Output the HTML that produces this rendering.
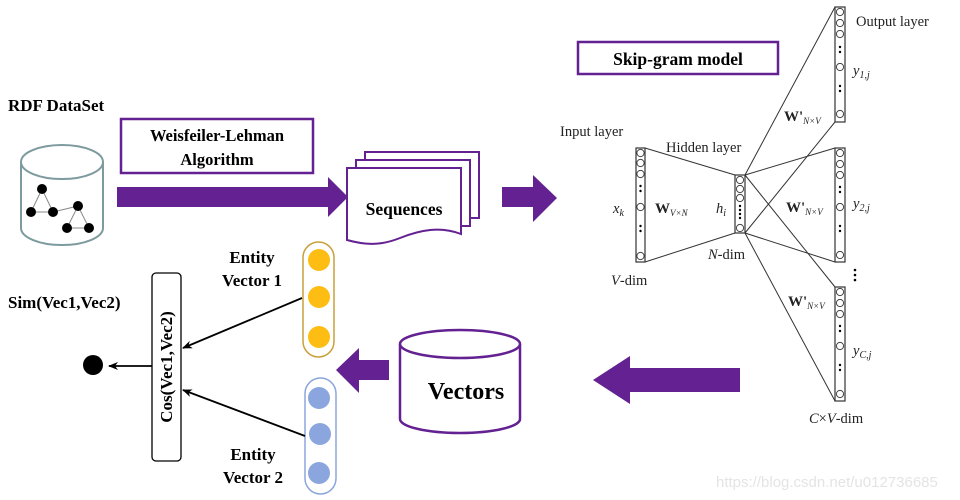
<!DOCTYPE html>
<html><head><meta charset="utf-8"><style>
html,body{margin:0;padding:0;background:#fff;}
svg{display:block;}
text{font-family:"Liberation Serif",serif;}
.b{font-weight:bold;}
</style></head><body>
<svg width="960" height="500" viewBox="0 0 960 500" xmlns="http://www.w3.org/2000/svg">
<defs>
<marker id="ah" markerWidth="10" markerHeight="8" refX="9" refY="4" orient="auto" markerUnits="userSpaceOnUse"><path d="M0,0 L10,4 L0,8 L3,4 Z" fill="#000"/></marker>
<g id="c"><circle r="3.6" fill="#fff" stroke="#444" stroke-width="1"/></g>
</defs>
<!-- RDF -->
<text x="8" y="111" class="b" font-size="17">RDF DataSet</text>
<rect x="121" y="119" width="192" height="54" fill="#fff" stroke="#632191" stroke-width="2.5"/>
<text x="217" y="141" class="b" font-size="16.5" text-anchor="middle">Weisfeiler-Lehman</text>
<text x="217" y="165" class="b" font-size="16.5" text-anchor="middle">Algorithm</text>
<!-- db cylinder -->
<path d="M21,162 L21,228 A41,17 0 0 0 103,228 L103,162" fill="#fff" stroke="#7d9b9e" stroke-width="2"/>
<ellipse cx="62" cy="162" rx="41" ry="17" fill="#fff" stroke="#7d9b9e" stroke-width="2"/>
<g stroke="#888" stroke-width="1">
<line x1="42" y1="189" x2="31" y2="212"/><line x1="42" y1="189" x2="53" y2="212"/><line x1="31" y1="212" x2="53" y2="212"/>
<line x1="53" y1="212" x2="78" y2="206"/><line x1="78" y1="206" x2="67" y2="228"/><line x1="78" y1="206" x2="89" y2="228"/><line x1="67" y1="228" x2="89" y2="228"/>
</g>
<g fill="#000"><circle cx="42" cy="189" r="5"/><circle cx="31" cy="212" r="5"/><circle cx="53" cy="212" r="5"/><circle cx="78" cy="206" r="5"/><circle cx="67" cy="228" r="5"/><circle cx="89" cy="228" r="5"/></g>
<!-- big arrows -->
<path d="M117,187 L328,187 L328,177 L348,197 L328,217 L328,207 L117,207 Z" fill="#632191"/>
<path d="M502,187 L533,187 L533,175 L557,198 L533,222 L533,207 L502,207 Z" fill="#632191"/>
<!-- sequences -->
<path d="M365,152 L479,152 L479,218 L365,218 Z" fill="#fff" stroke="#632191" stroke-width="2"/>
<path d="M356,160 L470,160 L470,226 L356,226 Z" fill="#fff" stroke="#632191" stroke-width="2"/>
<path d="M347,168 L461,168 L461,234 C440,226 420,230 400,238 C380,246 365,245 347,240 Z" fill="#fff" stroke="#632191" stroke-width="2"/>
<text x="404" y="215" class="b" font-size="17.5" text-anchor="middle">Sequences</text>
<!-- skip-gram box -->
<rect x="578" y="42" width="200" height="32" fill="#fff" stroke="#632191" stroke-width="2.5"/>
<text x="678" y="65" class="b" font-size="17.5" text-anchor="middle">Skip-gram model</text>
<!-- NN lines -->
<g stroke="#333" stroke-width="1" fill="none">
<line x1="645" y1="148" x2="735" y2="175"/><line x1="645" y1="262" x2="735" y2="233"/>
<line x1="745" y1="175" x2="835" y2="7"/><line x1="745" y1="233" x2="835" y2="122"/>
<line x1="745" y1="175" x2="835" y2="148"/><line x1="745" y1="233" x2="835" y2="262"/>
<line x1="745" y1="175" x2="835" y2="287"/><line x1="745" y1="233" x2="835" y2="401"/>
</g>
<!-- columns -->
<g stroke="#333" stroke-width="1.2" fill="#fff">
<rect x="636" y="148" width="9" height="114"/>
<rect x="735" y="175" width="10" height="58"/>
<rect x="835" y="7" width="10" height="115"/>
<rect x="835" y="148" width="10" height="114"/>
<rect x="835" y="287" width="10" height="114"/>
</g>
<g>
<use href="#c" x="640.5" y="153"/><use href="#c" x="640.5" y="163"/><use href="#c" x="640.5" y="174"/><use href="#c" x="640.5" y="207"/><use href="#c" x="640.5" y="256"/>
<use href="#c" x="740" y="180"/><use href="#c" x="740" y="189"/><use href="#c" x="740" y="198"/><use href="#c" x="740" y="228"/>
<use href="#c" x="840" y="12"/><use href="#c" x="840" y="23"/><use href="#c" x="840" y="34"/><use href="#c" x="840" y="67"/><use href="#c" x="840" y="114"/>
<use href="#c" x="840" y="153"/><use href="#c" x="840" y="164"/><use href="#c" x="840" y="175"/><use href="#c" x="840" y="207"/><use href="#c" x="840" y="255"/>
<use href="#c" x="840" y="292"/><use href="#c" x="840" y="303"/><use href="#c" x="840" y="314"/><use href="#c" x="840" y="346"/><use href="#c" x="840" y="394"/>
</g>
<g fill="#000">
<circle cx="640.5" cy="186" r="1.2"/><circle cx="640.5" cy="191" r="1.2"/><circle cx="640.5" cy="226" r="1.2"/><circle cx="640.5" cy="231" r="1.2"/>
<circle cx="740" cy="206" r="1.2"/><circle cx="740" cy="210" r="1.2"/><circle cx="740" cy="214" r="1.2"/><circle cx="740" cy="218" r="1.2"/>
<circle cx="840" cy="47" r="1.2"/><circle cx="840" cy="52" r="1.2"/><circle cx="840" cy="86" r="1.2"/><circle cx="840" cy="91" r="1.2"/>
<circle cx="840" cy="187" r="1.2"/><circle cx="840" cy="192" r="1.2"/><circle cx="840" cy="226" r="1.2"/><circle cx="840" cy="231" r="1.2"/>
<circle cx="840" cy="326" r="1.2"/><circle cx="840" cy="331" r="1.2"/><circle cx="840" cy="365" r="1.2"/><circle cx="840" cy="370" r="1.2"/>
<circle cx="855" cy="270" r="1.3"/><circle cx="855" cy="275" r="1.3"/><circle cx="855" cy="280" r="1.3"/>
</g>
<g font-size="14.5" fill="#222">
<text x="856" y="26">Output layer</text>
<text x="560" y="136">Input layer</text>
<text x="666" y="152">Hidden layer</text>
<text x="708" y="259"><tspan font-style="italic">N</tspan>-dim</text>
<text x="611" y="285"><tspan font-style="italic">V</tspan>-dim</text>
<text x="809" y="423"><tspan font-style="italic">C</tspan>×<tspan font-style="italic">V</tspan>-dim</text>
<text x="853" y="75" font-style="italic">y<tspan font-size="10" dy="3">1,j</tspan></text>
<text x="853" y="208" font-style="italic">y<tspan font-size="10" dy="3">2,j</tspan></text>
<text x="853" y="355" font-style="italic">y<tspan font-size="10" dy="3">C,j</tspan></text>
<text x="613" y="213" font-style="italic">x<tspan font-size="10" dy="3">k</tspan></text>
<text x="716" y="213" font-style="italic">h<tspan font-size="10" dy="3">i</tspan></text>
<text x="655" y="213" class="b" font-size="15">W<tspan font-size="9" font-style="italic" font-weight="normal" dy="3">V×N</tspan></text>
<text x="784" y="121" class="b" font-size="15">W'<tspan font-size="9" font-style="italic" font-weight="normal" dy="3">N×V</tspan></text>
<text x="786" y="212" class="b" font-size="15">W'<tspan font-size="9" font-style="italic" font-weight="normal" dy="3">N×V</tspan></text>
<text x="788" y="306" class="b" font-size="15">W'<tspan font-size="9" font-style="italic" font-weight="normal" dy="3">N×V</tspan></text>
</g>
<!-- left arrow from NN -->
<path d="M740,368 L630,368 L630,356 L593,380 L630,404 L630,392 L740,392 Z" fill="#632191"/>
<!-- Vectors cylinder -->
<path d="M400,344 L400,419 A60,14 0 0 0 520,419 L520,344" fill="#fff" stroke="#632191" stroke-width="2.5"/>
<ellipse cx="460" cy="344" rx="60" ry="14" fill="#fff" stroke="#632191" stroke-width="2.5"/>
<text x="466" y="399" class="b" font-size="24" text-anchor="middle">Vectors</text>
<path d="M389,360 L359,360 L359,348 L336,370 L359,393 L359,380 L389,380 Z" fill="#632191"/>
<!-- entity vectors -->
<rect x="303" y="242" width="31" height="115" rx="15.5" fill="#fff" stroke="#c9a03a" stroke-width="1.5"/>
<g fill="#fdbd12"><circle cx="319" cy="260" r="11"/><circle cx="319" cy="297" r="11"/><circle cx="319" cy="337" r="11"/></g>
<rect x="305" y="378" width="31" height="116" rx="15.5" fill="#fff" stroke="#8ba6de" stroke-width="1.5"/>
<g fill="#8ba6de"><circle cx="319" cy="398" r="11"/><circle cx="320" cy="434" r="11"/><circle cx="319" cy="473" r="11"/></g>
<g class="b" font-size="17" text-anchor="middle">
<text x="252" y="263" class="b">Entity</text><text x="252" y="286" class="b">Vector 1</text>
<text x="253" y="460" class="b">Entity</text><text x="253" y="483" class="b">Vector 2</text>
</g>
<text x="8" y="308" class="b" font-size="17">Sim(Vec1,Vec2)</text>
<rect x="152" y="273" width="29" height="188" rx="4" fill="#fff" stroke="#000" stroke-width="1.3"/>
<text transform="translate(172,367) rotate(-90)" class="b" font-size="17" text-anchor="middle">Cos(Vec1,Vec2)</text>
<g stroke="#000" stroke-width="1.8">
<line x1="302" y1="298" x2="183" y2="348" marker-end="url(#ah)"/>
<line x1="305" y1="436" x2="183" y2="390" marker-end="url(#ah)"/>
<line x1="152" y1="366" x2="109" y2="366" marker-end="url(#ah)"/>
</g>
<circle cx="93" cy="365" r="10" fill="#000"/>
<text x="716" y="487" font-family="Liberation Sans,sans-serif" style="font-family:'Liberation Sans',sans-serif" font-size="15" fill="#e4e4e4">https://blog.csdn.net/u012736685</text>
</svg>
</body></html>
